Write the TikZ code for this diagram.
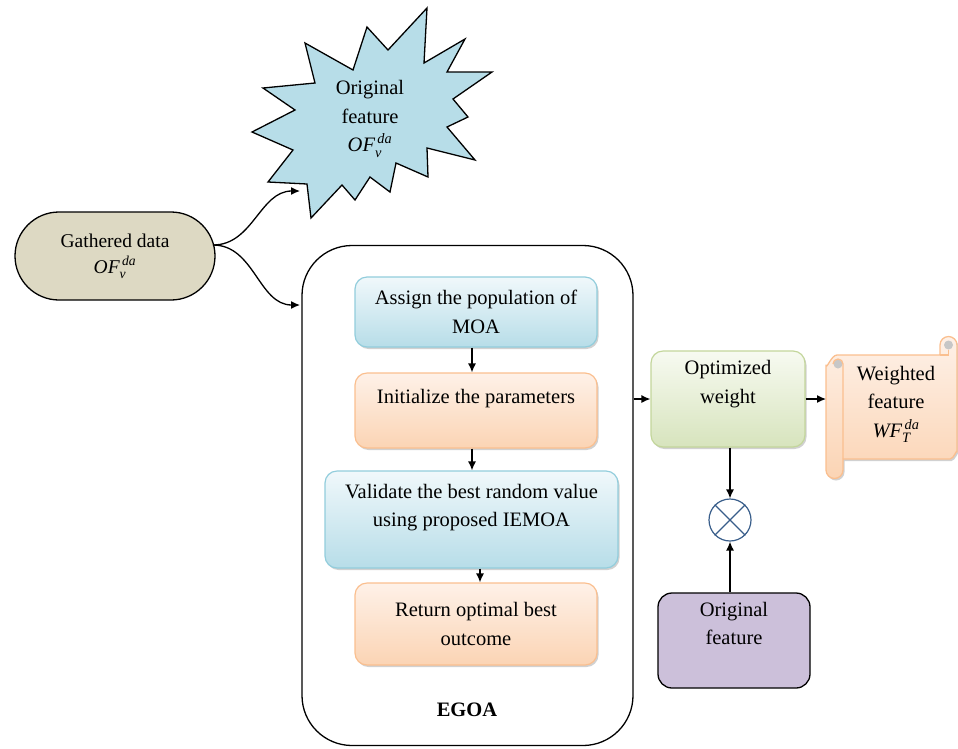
\documentclass[tikz,border=0pt]{standalone}
\usepackage{fontspec}
\setmainfont{Liberation Serif}
\usepackage{amsmath}
\usetikzlibrary{arrows.meta,shadows,calc}

\definecolor{blueB}{RGB}{183,221,232}
\definecolor{blueT}{RGB}{240,248,251}
\definecolor{blueD}{RGB}{146,205,220}
\definecolor{orB}{RGB}{251,212,180}
\definecolor{orT}{RGB}{254,241,232}
\definecolor{orD}{RGB}{250,191,143}
\definecolor{grB}{RGB}{215,228,189}
\definecolor{grT}{RGB}{247,250,241}
\definecolor{grD}{RGB}{195,214,155}
\definecolor{tanfill}{RGB}{221,217,195}
\definecolor{starfill}{RGB}{183,221,232}
\definecolor{purp}{RGB}{204,192,218}
\definecolor{otimescol}{RGB}{56,93,138}

\newcommand{\fvar}[3]{$\textit{#1}^{\,\textit{#2}}_{\textit{#3}}$}

\tikzset{
  txt/.style={font=\fontsize{20.5}{28.5}\selectfont, align=center, text=black},
  flowbox/.style={txt, rounded corners=12pt, line width=1.2pt, inner sep=2pt,
    drop shadow={shadow xshift=1.5pt, shadow yshift=-2pt, opacity=0.3, fill=black!60}},
  bluebox/.style={flowbox, draw=blueD, top color=blueT, bottom color=blueB},
  orbox/.style={flowbox, draw=orD, top color=orT, bottom color=orB},
  grbox/.style={flowbox, draw=grD, top color=grT, bottom color=grB},
  arr/.style={-{Latex[length=9pt,width=8pt]}, line width=1.3pt},
}

\begin{document}
\begin{tikzpicture}[x=1pt,y=-1pt]
\useasboundingbox (0,0) rectangle (958,748);

% EGOA container
\node[draw, line width=1.3pt, rounded corners=50pt, minimum width=331pt, minimum height=500pt] (egoa) at (467.5,495.5) {};
\node[txt, font=\fontsize{20.5}{24}\selectfont\bfseries] (egoalabel) at (467,710) {EGOA};

% star
\draw[line width=1.3pt, fill=starfill, line join=miter]
  (427,8) -- (424,63) -- (465,39) -- (447,72) -- (492,72) -- (453,99) -- (468,117)
  -- (447,127) -- (475,160) -- (427,148) -- (428,177) -- (396,163) -- (390,192)
  -- (370,177) -- (355,200) -- (342,185) -- (311,218) -- (307,184) -- (268,182)
  -- (293,150) -- (252,132) -- (295,110) -- (263,88) -- (315,83) -- (305,43)
  -- (353,70) -- (367,27) -- (388,50) -- cycle;
\node[txt] (startext) at (370,119) {Original\\feature\\\fvar{OF}{da}{v}};
\coordinate (starIn) at (300,191);

% gathered data
\node[txt, font=\fontsize{19.5}{26}\selectfont, draw, line width=1.3pt, fill=tanfill,
  rounded corners=44pt, minimum width=200pt, minimum height=88pt] (gather) at (115,256)
  {Gathered data\\\fvar{OF}{da}{v}};
\coordinate (gOut) at (213,245);
\coordinate (egoaIn) at (300,305);
\draw[arr] (gOut) to[out=0,in=180] (starIn);
\draw[arr] (gOut) to[out=0,in=180] (egoaIn);

% inner flow
\node[bluebox, minimum width=242pt, minimum height=70pt] (b1) at (476,312)
  {Assign the population of\\MOA};
\node[orbox, minimum width=242pt, minimum height=75pt] (b2) at (476,410.5)
  {Initialize the parameters\\~};
\node[bluebox, minimum width=293pt, minimum height=97pt] (b3) at (471.5,519.5)
  {Validate the best random value\\using proposed IEMOA\\~};
\node[orbox, minimum width=242pt, minimum height=82pt] (b4) at (476,624)
  {Return optimal best\\outcome};

\draw[arr] ([xshift=-4pt]b1.south) -- ([xshift=-4pt]b2.north);
\draw[arr] ([xshift=-4pt]b2.south) -- ([xshift=0.5pt]b3.north);
\draw[arr] ([xshift=8.5pt]b3.south) -- ([xshift=4pt]b4.north);

% optimized weight
\node[grbox, minimum width=154pt, minimum height=96pt] (opt) at (728,399)
  {Optimized\\weight\\[6pt]~};
\draw[arr] (egoa.east |- opt.west) -- (opt.west);

% scroll
\coordinate (scrollIn) at (826,399);
\path[top color=orT, bottom color=orB, drop shadow={shadow xshift=1.5pt, shadow yshift=-2pt, opacity=0.3, fill=black!60}]
  (826,470) -- (826,365) to[out=-90,in=180] (837,355) -- (940,355) -- (940,345)
  arc[start angle=180, end angle=360, radius=8.5] -- (957,452) to[out=90,in=0] (950,459)
  -- (843,459) -- (843,470) arc[start angle=0, end angle=180, radius=8.5] -- cycle;
\draw[line width=1.3pt, draw=orD, line join=round]
  (826,470) -- (826,365) to[out=-90,in=180] (837,355) -- (940,355) -- (940,345)
  arc[start angle=180, end angle=360, radius=8.5] -- (957,452) to[out=90,in=0] (950,459)
  -- (843,459) -- (843,470) arc[start angle=0, end angle=180, radius=8.5] -- cycle;
\fill[black!22] (838,364) circle[radius=4.5];
\fill[black!22] (948.5,345) circle[radius=4.5];
\draw[line width=1.3pt, draw=orD]
  (843,459) -- (843,364) arc[start angle=0, end angle=-180, radius=5] ;
\draw[line width=1.3pt, draw=orD]
  (940,355) -- (948.5,355) -- (948.5,350);
\node[txt] (scrolltext) at (896,404) {Weighted\\feature\\\fvar{WF}{da}{T}};
\draw[arr] (opt.east) -- (scrollIn);

% multiply
\node[draw=otimescol, line width=1.2pt, circle, minimum size=42pt, inner sep=0pt] (ox) at (730,520) {};
\draw[otimescol, line width=1.2pt] (ox.45) -- (ox.225) (ox.135) -- (ox.315);

% original feature
\node[txt, draw, line width=1.3pt, fill=purp, rounded corners=14pt,
  minimum width=152pt, minimum height=95pt] (orig) at (734,640.5) {Original\\feature\\[6pt]~};

\draw[arr] (opt.south -| ox.north) -- (ox.north);
\draw[arr] (orig.north -| ox.south) -- (ox.south);
\end{tikzpicture}
\end{document}
